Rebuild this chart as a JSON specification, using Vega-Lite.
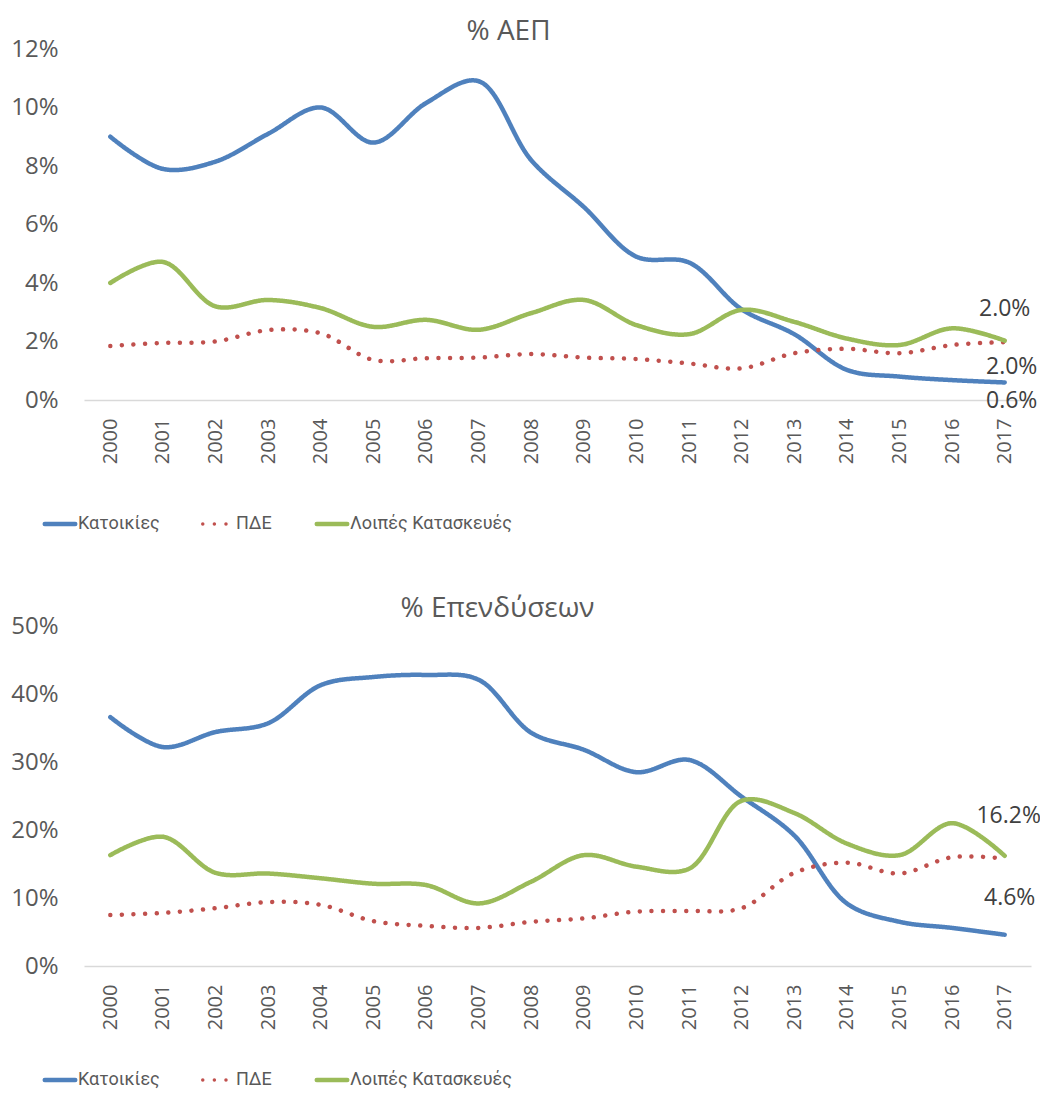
{
  "$schema": "https://vega.github.io/schema/vega-lite/v6.json",
  "padding": {"top": 18, "left": 10, "right": 0, "bottom": 0},
  "background": "white",
  "spacing": 62,
  "config": {
    "font": "Open Sans",
    "view": {"stroke": null},
    "axisX": {"domainColor": "#D9D9D9", "domainWidth": 1.5, "ticks": false, "grid": false, "labelAngle": -90, "labelFontSize": 20, "labelColor": "#595959", "labelPadding": 18, "title": null, "labelFont": "Open Sans"},
    "axisY": {"domain": false, "ticks": false, "grid": false, "labelFontSize": 24, "labelColor": "#595959", "labelPadding": 26, "title": null, "labelFont": "Open Sans"},
    "title": {"font": "Open Sans", "fontSize": 28, "fontWeight": "normal", "color": "#595959", "offset": -9}
  },
  "resolve": {"scale": {"y": "independent"}, "legend": {"color": "independent", "strokeDash": "independent"}},
  "datasets": {
    "gdp": [
      {"year": "2000", "series": "Κατοικίες", "value": 0.090},
      {"year": "2001", "series": "Κατοικίες", "value": 0.079},
      {"year": "2002", "series": "Κατοικίες", "value": 0.0815},
      {"year": "2003", "series": "Κατοικίες", "value": 0.091},
      {"year": "2004", "series": "Κατοικίες", "value": 0.100},
      {"year": "2005", "series": "Κατοικίες", "value": 0.088},
      {"year": "2006", "series": "Κατοικίες", "value": 0.1015},
      {"year": "2007", "series": "Κατοικίες", "value": 0.109},
      {"year": "2008", "series": "Κατοικίες", "value": 0.082},
      {"year": "2009", "series": "Κατοικίες", "value": 0.066},
      {"year": "2010", "series": "Κατοικίες", "value": 0.049},
      {"year": "2011", "series": "Κατοικίες", "value": 0.047},
      {"year": "2012", "series": "Κατοικίες", "value": 0.031},
      {"year": "2013", "series": "Κατοικίες", "value": 0.0225},
      {"year": "2014", "series": "Κατοικίες", "value": 0.0103},
      {"year": "2015", "series": "Κατοικίες", "value": 0.008},
      {"year": "2016", "series": "Κατοικίες", "value": 0.0068},
      {"year": "2017", "series": "Κατοικίες", "value": 0.006},
      {"year": "2000", "series": "ΠΔΕ", "value": 0.0185},
      {"year": "2001", "series": "ΠΔΕ", "value": 0.0195},
      {"year": "2002", "series": "ΠΔΕ", "value": 0.0200},
      {"year": "2003", "series": "ΠΔΕ", "value": 0.0239},
      {"year": "2004", "series": "ΠΔΕ", "value": 0.0228},
      {"year": "2005", "series": "ΠΔΕ", "value": 0.0137},
      {"year": "2006", "series": "ΠΔΕ", "value": 0.0143},
      {"year": "2007", "series": "ΠΔΕ", "value": 0.0145},
      {"year": "2008", "series": "ΠΔΕ", "value": 0.0157},
      {"year": "2009", "series": "ΠΔΕ", "value": 0.0145},
      {"year": "2010", "series": "ΠΔΕ", "value": 0.0140},
      {"year": "2011", "series": "ΠΔΕ", "value": 0.0125},
      {"year": "2012", "series": "ΠΔΕ", "value": 0.0108},
      {"year": "2013", "series": "ΠΔΕ", "value": 0.0160},
      {"year": "2014", "series": "ΠΔΕ", "value": 0.0175},
      {"year": "2015", "series": "ΠΔΕ", "value": 0.0160},
      {"year": "2016", "series": "ΠΔΕ", "value": 0.0188},
      {"year": "2017", "series": "ΠΔΕ", "value": 0.0198},
      {"year": "2000", "series": "Λοιπές Κατασκευές", "value": 0.040},
      {"year": "2001", "series": "Λοιπές Κατασκευές", "value": 0.0472},
      {"year": "2002", "series": "Λοιπές Κατασκευές", "value": 0.032},
      {"year": "2003", "series": "Λοιπές Κατασκευές", "value": 0.0342},
      {"year": "2004", "series": "Λοιπές Κατασκευές", "value": 0.0314},
      {"year": "2005", "series": "Λοιπές Κατασκευές", "value": 0.025},
      {"year": "2006", "series": "Λοιπές Κατασκευές", "value": 0.0274},
      {"year": "2007", "series": "Λοιπές Κατασκευές", "value": 0.024},
      {"year": "2008", "series": "Λοιπές Κατασκευές", "value": 0.0297},
      {"year": "2009", "series": "Λοιπές Κατασκευές", "value": 0.0342},
      {"year": "2010", "series": "Λοιπές Κατασκευές", "value": 0.0256},
      {"year": "2011", "series": "Λοιπές Κατασκευές", "value": 0.0225},
      {"year": "2012", "series": "Λοιπές Κατασκευές", "value": 0.0308},
      {"year": "2013", "series": "Λοιπές Κατασκευές", "value": 0.0267},
      {"year": "2014", "series": "Λοιπές Κατασκευές", "value": 0.021},
      {"year": "2015", "series": "Λοιπές Κατασκευές", "value": 0.0188},
      {"year": "2016", "series": "Λοιπές Κατασκευές", "value": 0.0245},
      {"year": "2017", "series": "Λοιπές Κατασκευές", "value": 0.0203}
    ],
    "inv": [
      {"year": "2000", "series": "Κατοικίες", "value": 0.366},
      {"year": "2001", "series": "Κατοικίες", "value": 0.322},
      {"year": "2002", "series": "Κατοικίες", "value": 0.344},
      {"year": "2003", "series": "Κατοικίες", "value": 0.357},
      {"year": "2004", "series": "Κατοικίες", "value": 0.413},
      {"year": "2005", "series": "Κατοικίες", "value": 0.425},
      {"year": "2006", "series": "Κατοικίες", "value": 0.428},
      {"year": "2007", "series": "Κατοικίες", "value": 0.421},
      {"year": "2008", "series": "Κατοικίες", "value": 0.343},
      {"year": "2009", "series": "Κατοικίες", "value": 0.318},
      {"year": "2010", "series": "Κατοικίες", "value": 0.285},
      {"year": "2011", "series": "Κατοικίες", "value": 0.303},
      {"year": "2012", "series": "Κατοικίες", "value": 0.249},
      {"year": "2013", "series": "Κατοικίες", "value": 0.192},
      {"year": "2014", "series": "Κατοικίες", "value": 0.092},
      {"year": "2015", "series": "Κατοικίες", "value": 0.065},
      {"year": "2016", "series": "Κατοικίες", "value": 0.056},
      {"year": "2017", "series": "Κατοικίες", "value": 0.046},
      {"year": "2000", "series": "ΠΔΕ", "value": 0.075},
      {"year": "2001", "series": "ΠΔΕ", "value": 0.078},
      {"year": "2002", "series": "ΠΔΕ", "value": 0.085},
      {"year": "2003", "series": "ΠΔΕ", "value": 0.094},
      {"year": "2004", "series": "ΠΔΕ", "value": 0.090},
      {"year": "2005", "series": "ΠΔΕ", "value": 0.066},
      {"year": "2006", "series": "ΠΔΕ", "value": 0.059},
      {"year": "2007", "series": "ΠΔΕ", "value": 0.056},
      {"year": "2008", "series": "ΠΔΕ", "value": 0.065},
      {"year": "2009", "series": "ΠΔΕ", "value": 0.070},
      {"year": "2010", "series": "ΠΔΕ", "value": 0.080},
      {"year": "2011", "series": "ΠΔΕ", "value": 0.081},
      {"year": "2012", "series": "ΠΔΕ", "value": 0.085},
      {"year": "2013", "series": "ΠΔΕ", "value": 0.137},
      {"year": "2014", "series": "ΠΔΕ", "value": 0.152},
      {"year": "2015", "series": "ΠΔΕ", "value": 0.136},
      {"year": "2016", "series": "ΠΔΕ", "value": 0.160},
      {"year": "2017", "series": "ΠΔΕ", "value": 0.158},
      {"year": "2000", "series": "Λοιπές Κατασκευές", "value": 0.163},
      {"year": "2001", "series": "Λοιπές Κατασκευές", "value": 0.190},
      {"year": "2002", "series": "Λοιπές Κατασκευές", "value": 0.137},
      {"year": "2003", "series": "Λοιπές Κατασκευές", "value": 0.136},
      {"year": "2004", "series": "Λοιπές Κατασκευές", "value": 0.129},
      {"year": "2005", "series": "Λοιπές Κατασκευές", "value": 0.121},
      {"year": "2006", "series": "Λοιπές Κατασκευές", "value": 0.119},
      {"year": "2007", "series": "Λοιπές Κατασκευές", "value": 0.092},
      {"year": "2008", "series": "Λοιπές Κατασκευές", "value": 0.124},
      {"year": "2009", "series": "Λοιπές Κατασκευές", "value": 0.163},
      {"year": "2010", "series": "Λοιπές Κατασκευές", "value": 0.146},
      {"year": "2011", "series": "Λοιπές Κατασκευές", "value": 0.143},
      {"year": "2012", "series": "Λοιπές Κατασκευές", "value": 0.243},
      {"year": "2013", "series": "Λοιπές Κατασκευές", "value": 0.225},
      {"year": "2014", "series": "Λοιπές Κατασκευές", "value": 0.180},
      {"year": "2015", "series": "Λοιπές Κατασκευές", "value": 0.163},
      {"year": "2016", "series": "Λοιπές Κατασκευές", "value": 0.210},
      {"year": "2017", "series": "Λοιπές Κατασκευές", "value": 0.162}
    ]
  },
  "vconcat": [
    {
      "width": 947,
      "height": 351,
      "title": {"text": "% ΑΕΠ", "dx": -49},
      "data": {"name": "gdp"},
      "encoding": {
        "x": {"field": "year", "type": "ordinal"},
        "y": {"field": "value", "type": "quantitative", "scale": {"domain": [0, 0.12]}, "axis": {"values": [0, 0.02, 0.04, 0.06, 0.08, 0.1, 0.12], "format": ".0%"}}
      },
      "layer": [
        {
          "mark": {"type": "line", "interpolate": "catmull-rom", "strokeWidth": 4.5, "strokeCap": "round"},
          "encoding": {
            "color": {"field": "series", "type": "nominal", "scale": {"domain": ["Κατοικίες", "ΠΔΕ", "Λοιπές Κατασκευές"], "range": ["#4F81BD", "#C0504D", "#9BBB59"]},
              "legend": {"title": null, "orient": "none", "legendX": -33, "legendY": 466, "direction": "horizontal", "symbolType": "stroke", "symbolSize": 930, "symbolStrokeWidth": 4.5, "labelFontSize": 18, "labelColor": "#595959", "labelFont": "Roboto", "labelLimit": 400, "columnPadding": 35, "labelOffset": 9,
                "encode": {"symbols": {"update": {"strokeCap": {"value": "round"}, "strokeDash": {"signal": "datum.value === 'ΠΔΕ' ? [0.01, 5.6] : [1, 0]"}, "strokeWidth": {"signal": "datum.value === 'ΠΔΕ' ? 3.5 : 4.5"}}}}}},
            "strokeDash": {"field": "series", "type": "nominal", "scale": {"domain": ["Κατοικίες", "ΠΔΕ", "Λοιπές Κατασκευές"], "range": [[1, 0], [0.01, 11.6], [1, 0]]},
              "legend": {"title": null, "orient": "none", "legendX": -33, "legendY": 466, "direction": "horizontal", "symbolType": "stroke", "symbolSize": 930, "symbolStrokeWidth": 4.5, "labelFontSize": 18, "labelColor": "#595959", "labelFont": "Roboto", "labelLimit": 400, "columnPadding": 35, "labelOffset": 9,
                "encode": {"symbols": {"update": {"strokeCap": {"value": "round"}, "strokeDash": {"signal": "datum.value === 'ΠΔΕ' ? [0.01, 5.6] : [1, 0]"}, "strokeWidth": {"signal": "datum.value === 'ΠΔΕ' ? 3.5 : 4.5"}}}}}}
          }
        },
        {
          "transform": [{"filter": "datum.year == '2017' && datum.series == 'Λοιπές Κατασκευές'"}],
          "mark": {"type": "text", "dy": -32, "fontSize": 23, "color": "#404040", "font": "Open Sans"},
          "encoding": {"text": {"field": "value", "type": "quantitative", "format": ".1%"}}
        },
        {
          "transform": [{"filter": "datum.year == '2017' && datum.series == 'ΠΔΕ'"}],
          "mark": {"type": "text", "dy": 25, "dx": 7, "fontSize": 23, "color": "#404040", "font": "Open Sans"},
          "encoding": {"text": {"field": "value", "type": "quantitative", "format": ".1%"}}
        },
        {
          "transform": [{"filter": "datum.year == '2017' && datum.series == 'Κατοικίες'"}],
          "mark": {"type": "text", "dy": 19, "dx": 7, "fontSize": 23, "color": "#404040", "font": "Open Sans"},
          "encoding": {"text": {"field": "value", "type": "quantitative", "format": ".1%"}}
        }
      ]
    },
    {
      "width": 947,
      "height": 340,
      "title": {"text": "% Επενδύσεων", "dx": -60},
      "data": {"name": "inv"},
      "encoding": {
        "x": {"field": "year", "type": "ordinal"},
        "y": {"field": "value", "type": "quantitative", "scale": {"domain": [0, 0.5]}, "axis": {"values": [0, 0.1, 0.2, 0.3, 0.4, 0.5], "format": ".0%"}}
      },
      "layer": [
        {
          "mark": {"type": "line", "interpolate": "catmull-rom", "strokeWidth": 4.5, "strokeCap": "round"},
          "encoding": {
            "color": {"field": "series", "type": "nominal", "scale": {"domain": ["Κατοικίες", "ΠΔΕ", "Λοιπές Κατασκευές"], "range": ["#4F81BD", "#C0504D", "#9BBB59"]},
              "legend": {"title": null, "orient": "none", "legendX": -33, "legendY": 445, "direction": "horizontal", "symbolType": "stroke", "symbolSize": 930, "symbolStrokeWidth": 4.5, "labelFontSize": 18, "labelColor": "#595959", "labelFont": "Roboto", "labelLimit": 400, "columnPadding": 35, "labelOffset": 9,
                "encode": {"symbols": {"update": {"strokeCap": {"value": "round"}, "strokeDash": {"signal": "datum.value === 'ΠΔΕ' ? [0.01, 5.6] : [1, 0]"}, "strokeWidth": {"signal": "datum.value === 'ΠΔΕ' ? 3.5 : 4.5"}}}}}},
            "strokeDash": {"field": "series", "type": "nominal", "scale": {"domain": ["Κατοικίες", "ΠΔΕ", "Λοιπές Κατασκευές"], "range": [[1, 0], [0.01, 11.6], [1, 0]]},
              "legend": {"title": null, "orient": "none", "legendX": -33, "legendY": 445, "direction": "horizontal", "symbolType": "stroke", "symbolSize": 930, "symbolStrokeWidth": 4.5, "labelFontSize": 18, "labelColor": "#595959", "labelFont": "Roboto", "labelLimit": 400, "columnPadding": 35, "labelOffset": 9,
                "encode": {"symbols": {"update": {"strokeCap": {"value": "round"}, "strokeDash": {"signal": "datum.value === 'ΠΔΕ' ? [0.01, 5.6] : [1, 0]"}, "strokeWidth": {"signal": "datum.value === 'ΠΔΕ' ? 3.5 : 4.5"}}}}}}
          }
        },
        {
          "transform": [{"filter": "datum.year == '2017' && datum.series == 'Λοιπές Κατασκευές'"}],
          "mark": {"type": "text", "dy": -40, "dx": 4, "fontSize": 23, "color": "#404040", "font": "Open Sans"},
          "encoding": {"text": {"field": "value", "type": "quantitative", "format": ".1%"}}
        },
        {
          "transform": [{"filter": "datum.year == '2017' && datum.series == 'Κατοικίες'"}],
          "mark": {"type": "text", "dy": -37, "dx": 5, "fontSize": 23, "color": "#404040", "font": "Open Sans"},
          "encoding": {"text": {"field": "value", "type": "quantitative", "format": ".1%"}}
        }
      ]
    }
  ]
}
